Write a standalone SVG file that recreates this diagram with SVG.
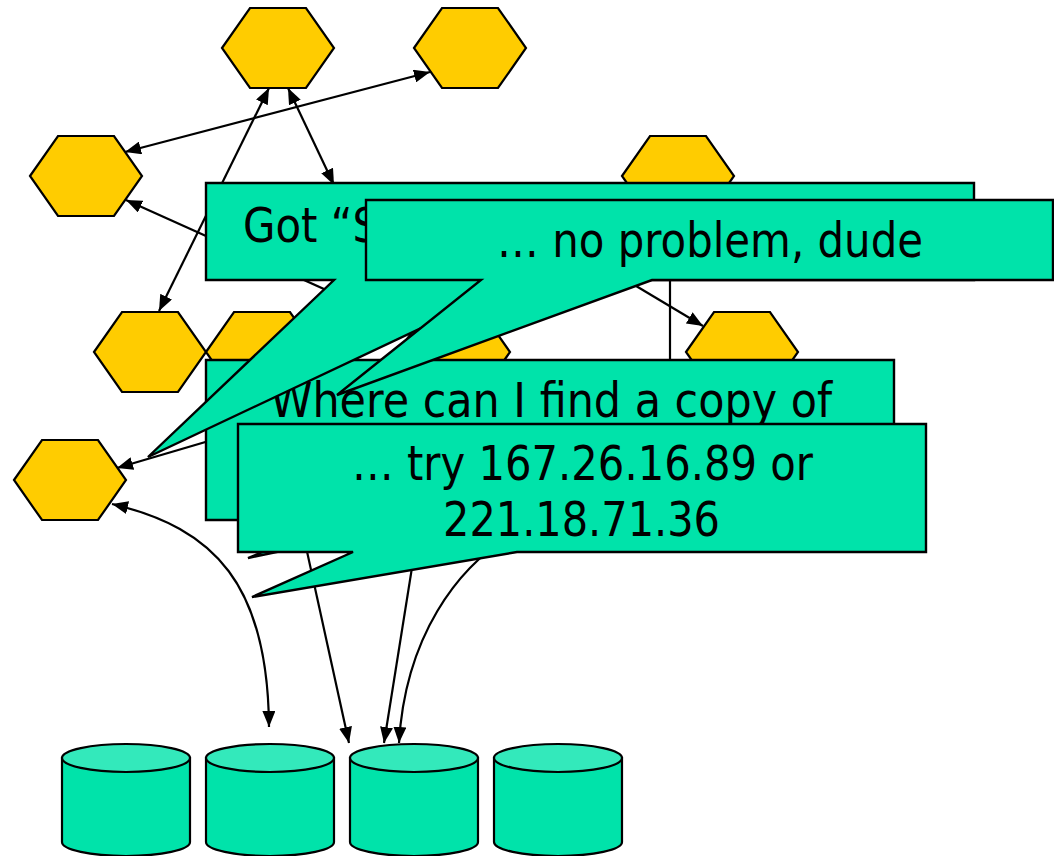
<svg xmlns="http://www.w3.org/2000/svg" width="1054" height="856" viewBox="0 0 1054 856">
  <defs>
    <style>
      .hex { fill: #FFCC00; stroke: #000; stroke-width: 2.2; stroke-linejoin: miter; }
      .link { fill: none; stroke: #000; stroke-width: 2.2; }
      .callout { fill: #00E3AA; stroke: #000; stroke-width: 2.4; stroke-linejoin: miter; }
      .label { font-family: "DejaVu Sans", "Liberation Sans", sans-serif; font-size: 48px; fill: #000; }
      .cyl-body { fill: #00E3AA; stroke: #000; stroke-width: 2.2; }
      .cyl-top { fill: #33E9BB; stroke: #000; stroke-width: 2.2; }
    </style>
    <marker id="arrow" viewBox="0 0 16 13" refX="16" refY="6.5" markerWidth="16" markerHeight="13" markerUnits="userSpaceOnUse" orient="auto-start-reverse">
      <path d="M0,0 L16,6.5 L0,13 Z" fill="#000"/>
    </marker>
    <polygon id="hexagon" class="hex" points="0,40 28,0 84,0 112,40 84,80 28,80"/>
    <g id="drum">
      <path class="cyl-body" d="M0,14 V98 A64,14 0 0 0 128,98 V14 Z"/>
      <ellipse class="cyl-top" cx="64" cy="14" rx="64" ry="14"/>
    </g>
  </defs>

  <!-- peers -->
  <g id="peer-a"><use href="#hexagon" x="222" y="8"/></g>
  <g id="peer-b"><use href="#hexagon" x="414" y="8"/></g>
  <g id="peer-c"><use href="#hexagon" x="30" y="136"/></g>
  <g id="peer-d"><use href="#hexagon" x="622" y="136"/></g>
  <g id="peer-e"><use href="#hexagon" x="94" y="312"/></g>
  <g id="peer-f"><use href="#hexagon" x="206" y="312"/></g>
  <g id="peer-g"><use href="#hexagon" x="398" y="312"/></g>
  <g id="peer-h"><use href="#hexagon" x="686" y="312"/></g>
  <g id="peer-i"><use href="#hexagon" x="14" y="440"/></g>

  <!-- storage -->
  <g id="store-1"><use href="#drum" x="62" y="744"/></g>
  <g id="store-2"><use href="#drum" x="206" y="744"/></g>
  <g id="store-3"><use href="#drum" x="350" y="744"/></g>
  <g id="store-4"><use href="#drum" x="494" y="744"/></g>

  <!-- links -->
  <g id="connectors">
    <line class="link" x1="430" y1="72" x2="125" y2="152" marker-start="url(#arrow)" marker-end="url(#arrow)"/>
    <line class="link" x1="269" y1="88" x2="159" y2="311" marker-start="url(#arrow)" marker-end="url(#arrow)"/>
    <line class="link" x1="288" y1="88" x2="334" y2="185" marker-start="url(#arrow)" marker-end="url(#arrow)"/>
    <line class="link" x1="126" y1="200" x2="415" y2="330" marker-start="url(#arrow)"/>
    <line class="link" x1="606" y1="268" x2="703" y2="326" marker-end="url(#arrow)"/>
    <line class="link" x1="670" y1="216" x2="670" y2="380"/>
    <line class="link" x1="416" y1="380" x2="117" y2="468" marker-end="url(#arrow)"/>
    <path class="link" d="M112,504 C215,528 268,585 269,727" marker-start="url(#arrow)" marker-end="url(#arrow)"/>
    <line class="link" x1="272" y1="392" x2="349" y2="743" marker-end="url(#arrow)"/>
    <line class="link" x1="440" y1="392" x2="384" y2="743" marker-end="url(#arrow)"/>
    <path class="link" d="M520,530 C455,565 405,640 399,743" marker-end="url(#arrow)"/>
  </g>

  <!-- speech bubbles -->
  <g id="bubble-query">
    <path class="callout" d="M206,360 H894 V520 H430 L248,558 L340,520 H206 Z"/>
    <text class="label" x="270" y="417" textLength="562" lengthAdjust="spacingAndGlyphs">Where can I find a copy of</text>
  </g>
  <g id="bubble-got">
    <path class="callout" d="M206,183 H974 V280 H523 L148,457 L334,280 H206 Z"/>
    <text class="label" x="243" y="242" textLength="136" lengthAdjust="spacingAndGlyphs">Got “S</text>
  </g>
  <g id="bubble-reply">
    <path class="callout" d="M366,200 H1053 V280 H652 L337,395 L481,280 H366 Z"/>
    <text class="label" x="497" y="257" textLength="426" lengthAdjust="spacingAndGlyphs">… no problem, dude</text>
  </g>
  <g id="bubble-answer">
    <path class="callout" d="M238,424 H926 V552 H517 L252,597 L353,552 H238 Z"/>
    <text class="label" x="352" y="480" textLength="461" lengthAdjust="spacingAndGlyphs">… try 167.26.16.89 or</text>
    <text class="label" x="443" y="536" textLength="277" lengthAdjust="spacingAndGlyphs">221.18.71.36</text>
  </g>
</svg>
